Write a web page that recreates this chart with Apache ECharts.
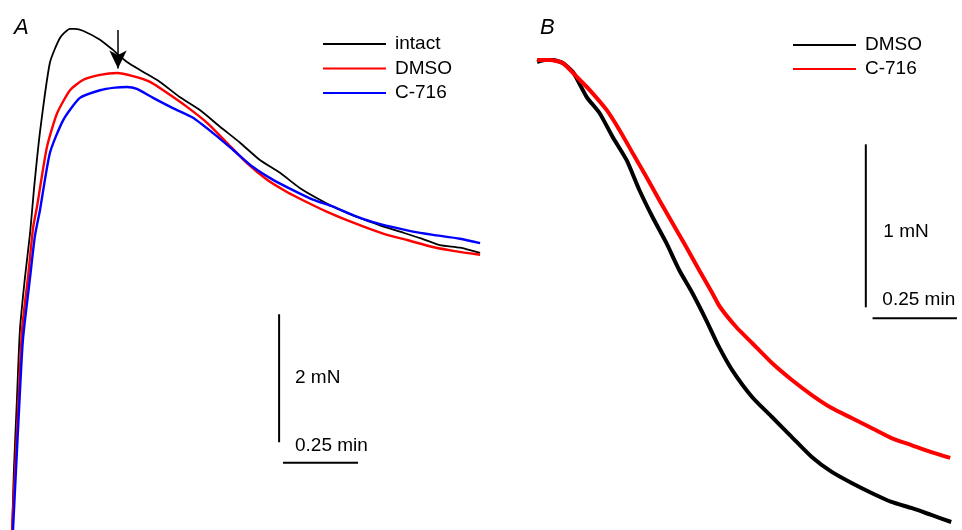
<!DOCTYPE html>
<html>
<head>
<meta charset="utf-8">
<script src="https://cdn.jsdelivr.net/npm/echarts@6/dist/echarts.min.js"></script>
<style>
  html, body { margin: 0; padding: 0; background: #fff; }
  #chart { width: 962px; height: 530px; }
</style>
</head>
<body>
<div id="chart"></div>
<script>
// Panel A: whole contraction traces, [time (min), force (mN)]
const intactA = [
  [0.007, -0.03], [0.013, 0.91], [0.023, 2.0], [0.033, 3.09], [0.05, 3.92], [0.067, 4.61],
  [0.08, 5.3], [0.1, 6.19], [0.133, 7.27], [0.167, 7.66], [0.2, 7.8], [0.217, 7.8],
  [0.243, 7.77], [0.3, 7.63], [0.343, 7.47], [0.39, 7.28], [0.443, 7.13], [0.5, 6.97],
  [0.567, 6.73], [0.633, 6.53], [0.7, 6.27], [0.767, 6.02], [0.833, 5.75], [0.9, 5.55],
  [0.967, 5.31], [1.033, 5.13], [1.1, 4.97], [1.167, 4.84], [1.233, 4.73], [1.3, 4.63],
  [1.367, 4.53], [1.433, 4.42], [1.5, 4.38], [1.567, 4.3]
];
const dmsoA = [
  [0.007, -0.03], [0.017, 0.91], [0.027, 1.84], [0.04, 3.09], [0.06, 3.92], [0.077, 4.69],
  [0.09, 5.02], [0.123, 5.95], [0.157, 6.48], [0.2, 6.84], [0.243, 7.0], [0.3, 7.08],
  [0.357, 7.11], [0.41, 7.06], [0.467, 6.97], [0.523, 6.8], [0.59, 6.58], [0.657, 6.33],
  [0.723, 6.02], [0.79, 5.7], [0.857, 5.44], [0.923, 5.25], [0.99, 5.09], [1.057, 4.94],
  [1.123, 4.81], [1.19, 4.69], [1.257, 4.58], [1.323, 4.5], [1.41, 4.39], [1.477, 4.33],
  [1.567, 4.27]
];
const c716A = [
  [0.01, -0.03], [0.02, 0.91], [0.03, 1.84], [0.043, 2.94], [0.067, 3.92], [0.083, 4.56],
  [0.1, 4.97], [0.133, 5.86], [0.177, 6.37], [0.233, 6.72], [0.3, 6.84], [0.35, 6.88],
  [0.39, 6.89], [0.423, 6.86], [0.477, 6.72], [0.543, 6.56], [0.61, 6.41], [0.677, 6.17],
  [0.743, 5.91], [0.81, 5.64], [0.877, 5.44], [0.943, 5.28], [1.01, 5.13], [1.077, 5.02],
  [1.143, 4.89], [1.21, 4.78], [1.277, 4.7], [1.343, 4.63], [1.41, 4.58], [1.5, 4.52],
  [1.567, 4.45]
];

// Panel B: relaxation phase, [time (min), force (mN)]
const dmsoB = [
  [0.021, 2.865], [0.044, 2.877], [0.068, 2.877], [0.097, 2.859], [0.127, 2.804],
  [0.168, 2.65], [0.206, 2.552], [0.245, 2.405], [0.286, 2.264], [0.324, 2.08],
  [0.363, 1.914], [0.404, 1.755], [0.442, 1.589], [0.481, 1.448], [0.522, 1.282],
  [0.56, 1.117], [0.599, 0.975], [0.658, 0.81], [0.717, 0.687], [0.776, 0.564],
  [0.835, 0.442], [0.894, 0.35], [0.953, 0.282], [1.012, 0.221], [1.071, 0.166],
  [1.13, 0.129], [1.189, 0.086], [1.248, 0.043]
];
const c716B = [
  [0.021, 2.877], [0.059, 2.877], [0.097, 2.859], [0.139, 2.773], [0.177, 2.693],
  [0.227, 2.571], [0.265, 2.448], [0.304, 2.307], [0.345, 2.16], [0.383, 2.018],
  [0.422, 1.877], [0.463, 1.73], [0.501, 1.589], [0.54, 1.448], [0.562, 1.365],
  [0.611, 1.239], [0.658, 1.141], [0.717, 1.018], [0.776, 0.914], [0.835, 0.822],
  [0.894, 0.742], [0.953, 0.681], [1.012, 0.62], [1.071, 0.558], [1.13, 0.515],
  [1.189, 0.472], [1.245, 0.436]
];

// Scale bars: [x, y] end points in data units, plus their captions
const scaleA = { force: [[0.897, 1.34], [0.897, 3.34]], time: [[0.91, 1.02], [1.16, 1.02]] };
const scaleB = { force: [[0.995, 1.36], [0.995, 2.36]], time: [[1.015, 1.293], [1.265, 1.293]] };
const scaleLabelsA = [{ name: '2 mN', value: [0.95, 2.34] }, { name: '0.25 min', value: [0.95, 1.29] }];
const scaleLabelsB = [{ name: '1 mN', value: [1.047, 1.822] }, { name: '0.25 min', value: [1.044, 1.405] }];

// Arrow marking the point of drug application on the intact trace
const arrowA = [[0.36, 7.78], [0.36, 7.18]];

const FONT = '"Liberation Sans", Arial, sans-serif';
const BLACK = '#000000', RED = '#ff0000', BLUE = '#0000ff';

function trace(name, data, color, width, gi) {
  return {
    type: 'line', name: name, data: data, xAxisIndex: gi, yAxisIndex: gi,
    showSymbol: false, smooth: 0.2, clip: false, silent: true,
    lineStyle: { color: color, width: width }, itemStyle: { color: color }
  };
}
function bar(data, gi) {
  return {
    type: 'line', data: data, xAxisIndex: gi, yAxisIndex: gi,
    showSymbol: false, clip: false, silent: true,
    lineStyle: { color: BLACK, width: 2 }
  };
}
function captions(data, gi) {
  return {
    type: 'scatter', data: data, xAxisIndex: gi, yAxisIndex: gi,
    symbolSize: 0, silent: true, clip: false,
    itemStyle: { opacity: 1, color: BLACK },
    label: {
      show: true, position: 'right', distance: 0, formatter: '{b}',
      color: BLACK, opacity: 1, fontSize: 19, fontFamily: FONT
    }
  };
}

const intactSeries = trace('intact', intactA, BLACK, 1.8, 0);
intactSeries.markLine = {
  silent: true, animation: false,
  symbol: ['none', 'arrow'], symbolSize: [13, 18],
  label: { show: false },
  lineStyle: { color: BLACK, width: 1.5, type: 'solid' },
  data: [[{ coord: arrowA[0] }, { coord: arrowA[1] }]]
};

const legendText = { fontSize: 19, fontFamily: FONT, color: BLACK, lineHeight: 22, padding: [0, 0, 0, 4] };

const option = {
  animation: false,
  backgroundColor: '#ffffff',
  title: [
    { text: 'A', left: 9, top: 12, textStyle: { fontStyle: 'italic', fontWeight: 'normal', fontSize: 22, fontFamily: FONT, color: BLACK } },
    { text: 'B', left: 535, top: 12, textStyle: { fontStyle: 'italic', fontWeight: 'normal', fontSize: 22, fontFamily: FONT, color: BLACK } }
  ],
  legend: [
    {
      orient: 'vertical', left: 318, top: 28, icon: 'rect', itemWidth: 63, itemHeight: 2, itemGap: 2.5,
      selectedMode: false, textStyle: legendText,
      data: [
        { name: 'intact', itemStyle: { color: BLACK } },
        { name: 'DMSO', itemStyle: { color: RED } },
        { name: 'C-716', itemStyle: { color: BLUE } }
      ]
    },
    {
      orient: 'vertical', left: 788, top: 29, icon: 'rect', itemWidth: 63, itemHeight: 2, itemGap: 2,
      selectedMode: false, textStyle: legendText,
      data: [
        { name: 'DMSO', itemStyle: { color: BLACK } },
        { name: 'C-716', itemStyle: { color: RED } }
      ]
    }
  ],
  grid: [
    { left: 10, top: 16, width: 480, height: 512 },
    { left: 530, top: 40, width: 434, height: 489 }
  ],
  xAxis: [
    { type: 'value', gridIndex: 0, min: 0, max: 1.6, show: false },
    { type: 'value', gridIndex: 1, min: 0, max: 1.28, show: false }
  ],
  yAxis: [
    { type: 'value', gridIndex: 0, min: 0, max: 8, show: false },
    { type: 'value', gridIndex: 1, min: 0, max: 3, show: false }
  ],
  series: [
    intactSeries,
    trace('DMSO', dmsoA, RED, 2.4, 0),
    trace('C-716', c716A, BLUE, 2.4, 0),
    bar(scaleA.force, 0),
    bar(scaleA.time, 0),
    captions(scaleLabelsA, 0),
    trace('DMSO', dmsoB, BLACK, 4, 1),
    trace('C-716', c716B, RED, 4, 1),
    bar(scaleB.force, 1),
    bar(scaleB.time, 1),
    captions(scaleLabelsB, 1)
  ]
};

const chart = echarts.init(document.getElementById('chart'), null, { renderer: 'canvas' });
chart.setOption(option);
</script>
</body>
</html>
